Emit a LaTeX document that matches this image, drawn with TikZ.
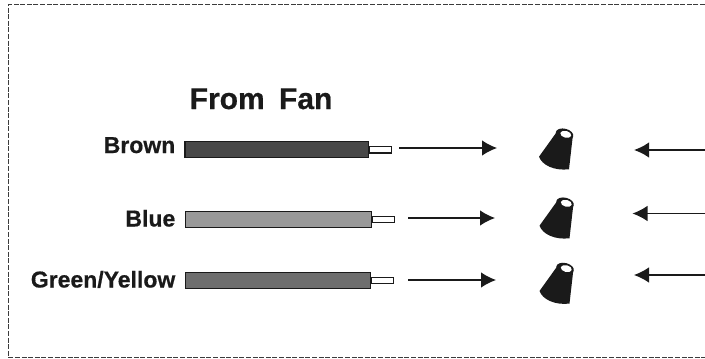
\documentclass[tikz,border=0pt]{standalone}
\usepackage{fontspec}
\setmainfont[BoldFeatures={FakeBold=0.6}]{Liberation Sans}
\usetikzlibrary{arrows.meta}
\definecolor{ink}{HTML}{1A1A1A}
\tikzset{
  x=1pt,y=-1pt,
  frameline/.style={draw=ink!85,line width=1.2pt,dash pattern=on 5pt off 1.6pt},
  wirelabel/.style={anchor=base east,inner sep=0,font=\fontsize{23}{26}\selectfont\bfseries,text=ink},
  wirebody/.style={draw=ink,line width=1.5pt,minimum height=16pt,inner sep=0,anchor=west},
  wiretip/.style={draw=ink,fill=white,line width=1.1pt,minimum height=6.5pt,inner sep=0,anchor=west},
  flow/.style={draw=ink,line width=1.2pt,-{Latex[length=15pt,width=15.5pt]}},
  conebody/.style={fill=ink,draw=none},
  conehole/.style={fill=white,draw=none},
}
\newcommand{\wireconnector}[2]{%
  \begin{scope}[shift={(#1,#2)}]
    \path[conebody] (-26,22.7) .. controls (-23,31) and (-11,37) .. (4,35.3) -- (7.8,2) -- (-9,-1) -- cycle;
    \path[conebody] (-0.5,0.3) ellipse [x radius=9pt, y radius=5.6pt, rotate=-14];
    \path[conehole] (0.8,0.3) ellipse [x radius=5.6pt, y radius=3.4pt, rotate=-14];
  \end{scope}}
\begin{document}
\begin{tikzpicture}
\useasboundingbox (0,0) rectangle (705,359);
\path[frameline] (705,4.5) -- (8.5,4.5) -- (8.5,357.5) -- (705,357.5);
\node[inner sep=0,anchor=base west,font=\fontsize{30}{33}\selectfont\bfseries,text=ink] (title) at (189.5,109) {From\hspace{6pt} Fan};

\node[wirelabel] (lbrown) at (175.5,153) {Brown};
\node[wirelabel] (lblue) at (175.5,226.5) {Blue};
\node[wirelabel] (lgreen) at (175.5,287.5) {Green/Yellow};

\node[wirebody,fill=ink!80,minimum width=183.5pt] (wbrown) at (184,149.7) {};
\node[wirebody,fill=black!40,minimum width=186pt] (wblue) at (184.5,219.4) {};
\node[wirebody,fill=black!57,minimum width=185pt] (wgreen) at (184.5,280.6) {};
\node[wiretip,minimum width=22pt] (tbrown) at (wbrown.east) {};
\node[wiretip,minimum width=22pt] (tblue) at (wblue.east) {};
\node[wiretip,minimum width=22pt] (tgreen) at (wgreen.east) {};

\coordinate (abrown) at (399,148);
\coordinate (ablue) at (408,218);
\coordinate (agreen) at (408,280);
\coordinate (ebrown) at (497,148);
\coordinate (eblue) at (495,218);
\coordinate (egreen) at (496,280);
\draw[flow] (abrown) -- (ebrown);
\draw[flow] (ablue) -- (eblue);
\draw[flow] (agreen) -- (egreen);

\wireconnector{565}{134}
\wireconnector{565.5}{203}
\wireconnector{565.5}{268.3}

\coordinate (rbrown) at (705,150);
\coordinate (rblue) at (705,213.5);
\coordinate (rgreen) at (705,275);
\coordinate (hbrown) at (634,150);
\coordinate (hblue) at (632.5,213.5);
\coordinate (hgreen) at (634,275);
\draw[flow,line width=1.8pt] (rbrown) -- (hbrown);
\draw[flow] (rblue) -- (hblue);
\draw[flow] (rgreen) -- (hgreen);
\end{tikzpicture}
\end{document}
